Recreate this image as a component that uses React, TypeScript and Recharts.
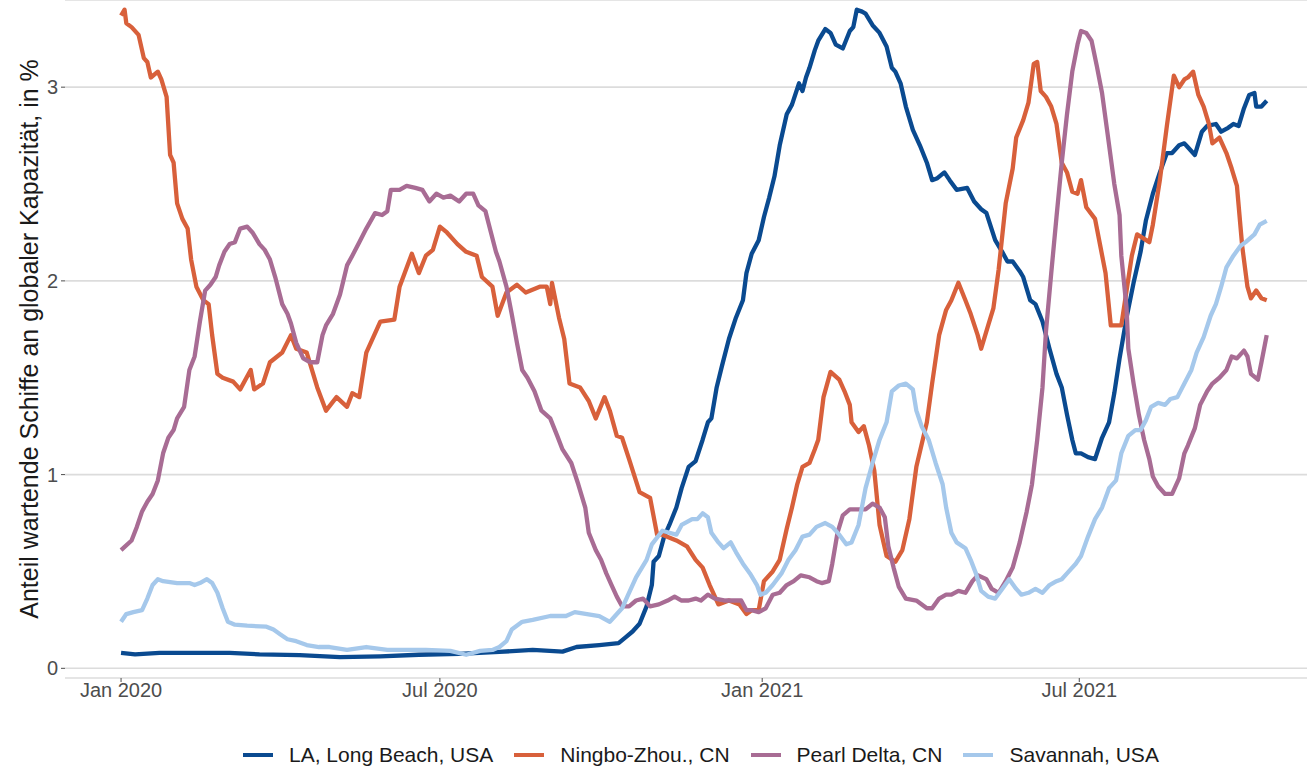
import React from 'react';
import { LineChart, Line, XAxis, YAxis, CartesianGrid, Legend } from 'recharts';

// x values: days since 1 Jan 2020
const laDays = [0,8,22,62,79,102,125,148,170,193,216,235,252,260,273,284,288,292,296,300,303,304,307,310,313,317,320,324,328,332,335,337,340,343,347,351,355,357,360,364,367,370,373,376,380,383,387,389,391,393,396,398,402,405,408,412,416,418,420,423,425,429,433,437,440,442,445,448,452,456,460,463,466,470,473,477,483,487,491,494,499,503,506,509,513,515,519,522,526,530,534,537,540,543,545,548,552,556,560,564,567,570,574,578,582,585,589,593,597,600,604,607,609,613,617,620,625,628,632,635,638,641,644,647,648,651,654];
const laValues = [0.08,0.072,0.08,0.08,0.072,0.068,0.058,0.062,0.07,0.075,0.085,0.095,0.086,0.11,0.12,0.13,0.16,0.19,0.23,0.32,0.43,0.55,0.58,0.68,0.74,0.83,0.93,1.04,1.07,1.18,1.27,1.29,1.45,1.56,1.70,1.81,1.90,2.04,2.14,2.21,2.33,2.43,2.54,2.70,2.86,2.91,3.02,2.98,3.05,3.10,3.19,3.24,3.30,3.28,3.22,3.20,3.29,3.31,3.40,3.39,3.38,3.32,3.28,3.21,3.10,3.08,3.02,2.90,2.78,2.70,2.61,2.52,2.53,2.56,2.52,2.47,2.48,2.41,2.37,2.35,2.21,2.15,2.10,2.10,2.05,2.02,1.90,1.88,1.79,1.65,1.52,1.45,1.31,1.18,1.11,1.11,1.09,1.08,1.19,1.27,1.42,1.60,1.81,1.99,2.15,2.31,2.45,2.56,2.66,2.66,2.70,2.71,2.69,2.65,2.77,2.80,2.81,2.77,2.79,2.81,2.80,2.89,2.96,2.97,2.90,2.90,2.93];

const ningboDays = [0,2,3,6,10,13,15,17,21,23,26,28,30,32,35,38,40,43,47,50,52,55,58,64,68,74,76,81,85,92,97,100,106,112,117,123,129,132,136,140,148,156,159,166,170,174,178,182,186,192,197,203,206,212,215,220,226,231,239,243,245,246,250,253,256,262,267,271,276,279,283,286,290,296,302,306,309,317,323,328,332,336,341,347,353,357,360,364,367,372,376,380,383,386,389,393,396,398,401,405,410,413,416,417,421,424,427,430,433,437,442,446,450,454,460,463,467,471,474,478,482,485,489,491,495,498,501,505,509,511,515,518,521,523,525,528,531,534,537,540,543,546,548,551,556,559,562,565,571,574,577,580,587,589,593,597,601,604,607,609,612,615,618,621,623,627,631,634,637,640,643,645,648,651,654];
const ningboValues = [3.37,3.40,3.33,3.31,3.27,3.15,3.13,3.05,3.08,3.04,2.95,2.65,2.61,2.40,2.32,2.27,2.11,1.97,1.90,1.88,1.72,1.52,1.50,1.48,1.44,1.54,1.44,1.47,1.58,1.63,1.72,1.65,1.63,1.45,1.33,1.40,1.35,1.42,1.40,1.63,1.79,1.80,1.97,2.14,2.04,2.13,2.16,2.28,2.25,2.19,2.15,2.13,2.02,1.97,1.82,1.94,1.98,1.94,1.97,1.97,1.88,1.99,1.81,1.70,1.47,1.45,1.38,1.29,1.40,1.33,1.20,1.19,1.08,0.91,0.88,0.69,0.69,0.66,0.63,0.56,0.52,0.43,0.33,0.35,0.33,0.28,0.30,0.30,0.45,0.50,0.56,0.72,0.83,0.95,1.04,1.06,1.13,1.18,1.40,1.53,1.49,1.43,1.36,1.27,1.22,1.25,1.15,1.02,0.74,0.58,0.55,0.61,0.77,1.04,1.27,1.47,1.72,1.85,1.90,1.99,1.90,1.83,1.72,1.65,1.77,1.86,2.06,2.40,2.58,2.74,2.83,2.92,3.12,3.13,2.98,2.95,2.90,2.81,2.61,2.56,2.46,2.45,2.52,2.38,2.32,2.18,2.04,1.77,1.77,1.95,2.13,2.24,2.20,2.29,2.52,2.80,3.06,3.00,3.04,3.05,3.08,2.96,2.90,2.81,2.71,2.74,2.66,2.58,2.49,2.18,1.97,1.91,1.95,1.91,1.90];

const pearlDays = [0,6,9,12,15,18,21,24,27,30,32,36,39,42,45,48,51,54,56,59,62,65,68,72,75,79,82,85,88,92,95,97,100,104,108,112,115,117,121,125,129,132,136,140,145,149,152,154,159,163,168,172,176,180,184,188,193,197,201,204,208,210,214,216,220,223,226,229,232,236,240,245,249,252,257,261,265,267,271,274,277,280,283,286,290,294,298,302,307,312,316,320,324,328,331,335,339,345,354,357,360,364,368,372,376,380,384,388,393,397,400,404,406,409,412,416,420,425,429,433,436,438,441,444,448,454,460,463,467,471,474,478,482,486,489,494,497,501,505,509,513,517,520,523,526,528,531,534,537,540,543,546,548,551,554,557,560,563,567,570,571,574,575,578,581,584,587,589,592,596,600,604,607,609,613,616,620,623,627,631,634,637,641,643,645,649,651,654];
const pearlValues = [0.61,0.66,0.73,0.81,0.86,0.90,0.97,1.11,1.19,1.23,1.29,1.35,1.54,1.61,1.79,1.95,1.98,2.02,2.08,2.15,2.19,2.20,2.27,2.28,2.25,2.19,2.16,2.11,2.02,1.88,1.83,1.78,1.68,1.60,1.58,1.58,1.72,1.77,1.83,1.93,2.08,2.13,2.20,2.27,2.35,2.34,2.36,2.47,2.47,2.49,2.48,2.47,2.41,2.45,2.43,2.44,2.41,2.45,2.45,2.39,2.36,2.29,2.15,2.10,1.97,1.83,1.68,1.54,1.50,1.43,1.33,1.29,1.20,1.13,1.06,0.95,0.83,0.70,0.61,0.56,0.49,0.43,0.37,0.32,0.32,0.35,0.36,0.32,0.33,0.35,0.37,0.35,0.35,0.36,0.35,0.38,0.36,0.35,0.35,0.30,0.30,0.29,0.31,0.38,0.39,0.43,0.45,0.48,0.47,0.45,0.44,0.45,0.54,0.70,0.79,0.82,0.82,0.82,0.85,0.83,0.78,0.63,0.52,0.42,0.36,0.35,0.31,0.31,0.36,0.38,0.38,0.40,0.39,0.45,0.48,0.46,0.41,0.39,0.45,0.52,0.65,0.81,0.95,1.18,1.45,1.74,2.04,2.33,2.61,2.86,3.08,3.22,3.29,3.28,3.24,3.11,2.97,2.77,2.50,2.34,2.13,1.86,1.65,1.47,1.31,1.18,1.08,0.99,0.94,0.90,0.90,0.98,1.11,1.15,1.24,1.36,1.43,1.47,1.50,1.54,1.61,1.60,1.64,1.61,1.52,1.49,1.58,1.72];

const savannahDays = [0,3,7,12,15,18,21,24,32,39,42,45,49,52,55,58,61,65,72,83,87,91,95,100,106,113,119,129,140,152,174,188,197,205,212,216,220,223,229,235,245,254,259,266,273,279,282,286,289,294,300,303,309,313,317,320,326,329,332,335,337,341,344,348,351,355,359,363,365,368,372,377,381,385,389,393,397,402,406,410,414,417,421,425,429,433,437,440,444,448,452,454,457,461,465,469,471,474,477,482,485,488,491,495,499,503,507,511,514,518,522,526,530,534,537,540,545,548,552,556,560,564,568,571,575,579,582,585,588,592,596,599,603,607,611,614,618,622,625,628,631,635,639,642,647,650,654];
const savannahValues = [0.24,0.28,0.29,0.30,0.36,0.43,0.46,0.45,0.44,0.44,0.43,0.44,0.46,0.44,0.39,0.31,0.24,0.225,0.22,0.215,0.20,0.175,0.15,0.14,0.12,0.11,0.11,0.095,0.11,0.095,0.095,0.09,0.07,0.09,0.095,0.11,0.14,0.20,0.24,0.25,0.27,0.27,0.29,0.28,0.27,0.24,0.27,0.31,0.37,0.47,0.56,0.64,0.71,0.70,0.69,0.74,0.77,0.77,0.80,0.78,0.70,0.65,0.62,0.65,0.60,0.54,0.49,0.43,0.38,0.39,0.43,0.49,0.56,0.61,0.68,0.69,0.73,0.75,0.73,0.69,0.64,0.65,0.74,0.93,1.06,1.18,1.27,1.43,1.46,1.47,1.44,1.33,1.25,1.18,1.06,0.95,0.83,0.70,0.65,0.62,0.56,0.49,0.40,0.37,0.36,0.41,0.46,0.41,0.38,0.39,0.41,0.39,0.43,0.45,0.46,0.49,0.54,0.58,0.68,0.77,0.83,0.93,0.97,1.11,1.20,1.23,1.23,1.28,1.35,1.37,1.36,1.39,1.40,1.47,1.54,1.63,1.71,1.82,1.88,1.97,2.07,2.13,2.18,2.20,2.24,2.29,2.31];

const xTicks = [0, 182, 366, 547];
const xTickLabels = ['Jan 2020', 'Jul 2020', 'Jan 2021', 'Jul 2021'];
const yTicks = [0, 1, 2, 3];

const seriesNames = ['LA, Long Beach, USA', 'Ningbo-Zhou., CN', 'Pearl Delta, CN', 'Savannah, USA'];
const seriesColors = ['#0a4a90', '#d8603b', '#a86c94', '#a5c8eb'];

const toRows = (days: number[], values: number[]) => days.map((day, i) => ({ day, value: values[i] }));

const series = [
  toRows(laDays, laValues),
  toRows(ningboDays, ningboValues),
  toRows(pearlDays, pearlValues),
  toRows(savannahDays, savannahValues),
];

const FONT = '"Liberation Sans", Arial, sans-serif';

const LegendContent = () => (
  <div style={{ display: 'flex', alignItems: 'center', height: 26, paddingLeft: 243, fontFamily: FONT, fontSize: 21, color: '#1a1a1a' }}>
    {seriesNames.map((n, i) => (
      <div key={n} style={{ display: 'flex', alignItems: 'center', marginRight: 21 }}>
        <div style={{ width: 30, height: 4, background: seriesColors[i], marginRight: 16 }} />
        <span style={{ whiteSpace: 'nowrap' }}>{n}</span>
      </div>
    ))}
  </div>
);

export default function App() {
  return (
    <div style={{ position: 'absolute', left: 0, top: 0, width: 1307, height: 768, background: '#fff' }}>
      <LineChart width={1307} height={768} margin={{ top: 0, right: 0, bottom: 0, left: 0 }}>
        <CartesianGrid horizontal vertical={false} stroke="#dcdcdc" strokeWidth={1.6} />
        <XAxis
          type="number"
          dataKey="day"
          domain={[-32, 677]}
          ticks={xTicks}
          tickFormatter={(v: number) => xTickLabels[xTicks.indexOf(v)] ?? ''}
          allowDataOverflow
          axisLine={false}
          tickLine={{ stroke: '#4d4d4d' }}
          tickSize={4}
          tickMargin={1}
          height={64}
          tick={{ fill: '#4d4d4d', fontSize: 20, fontFamily: FONT }}
        />
        <YAxis
          type="number"
          domain={[-0.05, 3.45]}
          ticks={yTicks}
          allowDataOverflow
          axisLine={false}
          tickLine={{ stroke: '#4d4d4d' }}
          tickSize={4}
          tickMargin={3}
          width={65}
          tick={{ fill: '#4d4d4d', fontSize: 20, fontFamily: FONT }}
          label={{
            value: 'Anteil wartende Schiffe an globaler Kapazität, in %',
            angle: -90,
            position: 'center',
            dx: -3,
            style: { fill: '#1a1a1a', fontSize: 25, fontFamily: FONT, textAnchor: 'middle' },
          }}
        />
        <Legend verticalAlign="bottom" height={26} content={LegendContent} />
        {series.map((rows, i) => (
          <Line
            key={seriesNames[i]}
            data={rows}
            dataKey="value"
            name={seriesNames[i]}
            type="linear"
            stroke={seriesColors[i]}
            strokeWidth={4.3}
            strokeLinejoin="round"
            dot={false}
            activeDot={false}
            isAnimationActive={false}
          />
        ))}
      </LineChart>
    </div>
  );
}
